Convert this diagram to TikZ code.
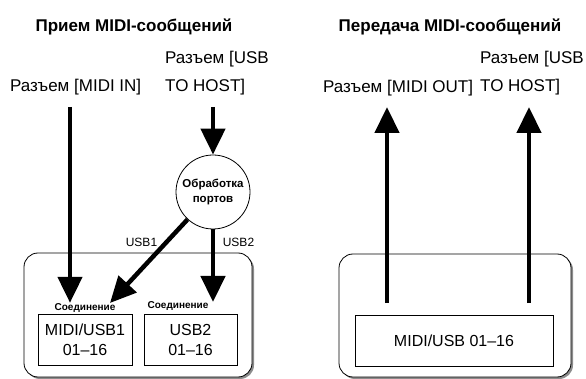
\documentclass[tikz,border=0pt]{standalone}
\usepackage{fontspec}
\setmainfont{Liberation Sans}
\usetikzlibrary{arrows.meta,shadows}

\begin{document}
\begin{tikzpicture}[
    x=1pt, y=-1pt,
    heading/.style={font=\fontsize{17}{20}\selectfont\bfseries, inner sep=0pt},
    jacklabel/.style={font=\fontsize{17}{28}\selectfont, align=left, inner sep=0pt},
    portlabel/.style={font=\fontsize{12}{14}\selectfont, inner sep=0pt},
    connlabel/.style={font=\fontsize{10}{12}\selectfont\bfseries, inner sep=0pt},
    panel/.style={draw, rounded corners=14pt, line width=0.8pt, fill=white,
                  drop shadow={shadow xshift=2pt, shadow yshift=-2pt,
                               fill=black!45, opacity=1}},
    chanbox/.style={draw, line width=0.8pt, fill=white,
                    minimum height=51pt, align=center,
                    font=\fontsize{16}{20}\selectfont},
    portcircle/.style={draw, circle, line width=0.8pt, fill=white,
                       minimum size=74pt, inner sep=0pt, align=center,
                       font=\fontsize{11.5}{15}\selectfont\bfseries},
    flow/.style={line width=4.5pt, -{Triangle[width=24pt,length=26pt]}}
]

\useasboundingbox (0,0) rectangle (586,379);

% --- RECEIVE ---
\node[heading,anchor=base] (rxtitle) at (134,32) {Прием MIDI-сообщений};
\node[jacklabel,anchor=base west] (midiin) at (10,92) {Разъем [MIDI IN]};
\node[jacklabel,anchor=base west] (usbin) at (165,92) {Разъем [USB\\TO HOST]};

\node[panel,minimum width=228pt,minimum height=124pt] (rxpanel) at (138,315) {};
\node[chanbox,minimum width=94pt] (ch1) at (85,339.5) {MIDI/USB1\\01–16};
\node[chanbox,minimum width=93pt] (ch2) at (190.5,339.5) {USB2\\01–16};
\node[connlabel,anchor=base] (conn1) at (85,310) {Соединение};
\node[connlabel,anchor=base] (conn2) at (178,308) {Соединение};

\node[portcircle] (ports) at (213,192) {Обработка\\портов};
\node[portlabel] (usb1lbl) at (141.5,242) {USB1};
\node[portlabel] (usb2lbl) at (238.5,242) {USB2};

\coordinate (midiinstart) at (70,107);
\coordinate (usbinstart) at (213,107);
\coordinate (usb1end) at (110,303);
\coordinate (usb2end) at (213,302);

\draw[flow] (midiinstart) -- (midiinstart |- conn1.north);
\draw[flow] (usbinstart) -- (ports);
\draw[flow] (ports) -- (usb1end);
\draw[flow] (ports) -- (usb2end);

% --- TRANSMIT ---
\node[heading,anchor=base] (txtitle) at (450,32) {Передача MIDI-сообщений};
\node[jacklabel,anchor=base west] (midiout) at (323,93) {Разъем [MIDI OUT]};
\node[jacklabel,anchor=base west] (usbout) at (480,92) {Разъем [USB\\TO HOST]};

\node[panel,minimum width=232pt,minimum height=123pt] (txpanel) at (455,315.5) {};
\node[chanbox,minimum width=198pt] (chall) at (454,340.5) {MIDI/USB 01–16};

\coordinate (midioutstart) at (387,303);
\coordinate (midioutend) at (387,107);
\coordinate (usboutstart) at (529,303);
\coordinate (usboutend) at (529,107);

\draw[flow] (midioutstart) -- (midioutend);
\draw[flow] (usboutstart) -- (usboutend);

\end{tikzpicture}
\end{document}
